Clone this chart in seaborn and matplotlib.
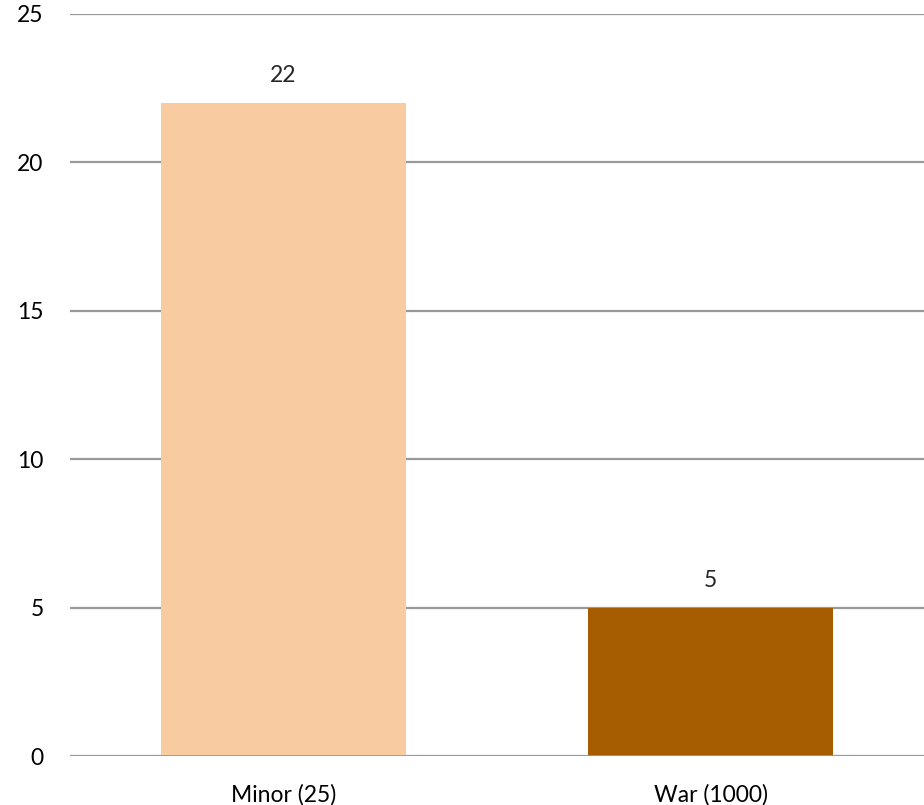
import pandas as pd
import matplotlib
matplotlib.use("Agg")
import matplotlib.pyplot as plt
import seaborn as sns

categories = ["Minor (25)", "War (1000)"]
counts = [22, 5]
bar_colors = ["#F8CBA0", "#A65C00"]

data = pd.DataFrame({"category": categories, "count": counts})

sns.set_style("white")
plt.rcParams["font.family"] = ["Lato", "DejaVu Sans"]

fig = plt.figure(figsize=(9.24, 8.05), dpi=100)
ax = fig.add_axes([70 / 924, 1 - 756 / 805, 1 - 70 / 924, (756 - 14) / 805])

sns.barplot(data=data, x="category", y="count", hue="category",
            palette=bar_colors, saturation=1, width=0.574, linewidth=0,
            legend=False, ax=ax, zorder=3)

ax.set_ylim(0, 25)
ax.set_yticks([0, 5, 10, 15, 20, 25])
ax.yaxis.grid(True, color="#999999", linewidth=1.6, zorder=0)
ax.set_axisbelow(True)
for s in ax.spines.values():
    s.set_visible(False)
ax.axhline(0, color="#999999", linewidth=2, zorder=4)
ax.tick_params(axis="both", length=0, labelsize=16.5, colors="black")
ax.tick_params(axis="y", pad=19)
ax.tick_params(axis="x", pad=20)
ax.set_xlabel("")
ax.set_ylabel("")

for c in ax.containers:
    ax.bar_label(c, fmt="%d", padding=12, fontsize=16.5)

fig.savefig("out.png", dpi=100)
